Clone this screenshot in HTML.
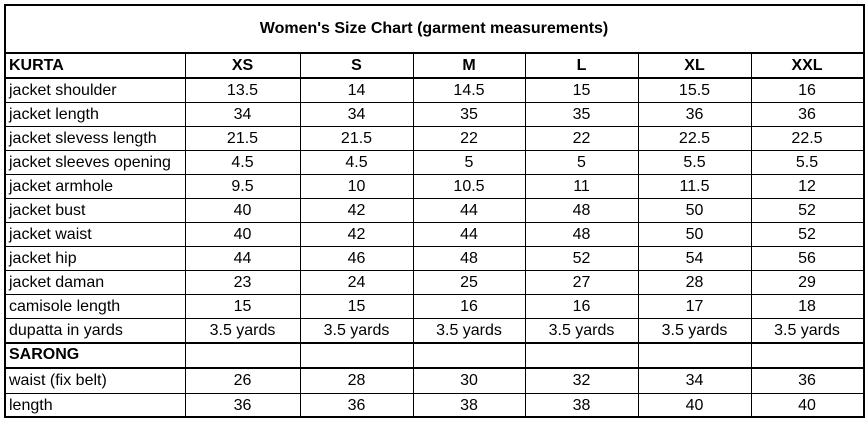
<!DOCTYPE html>
<html><head><meta charset="utf-8">
<style>
html,body{margin:0;padding:0;background:#fff;}
#wrap{position:relative;width:868px;height:421px;overflow:hidden;font-family:"Liberation Sans",Arial,sans-serif;color:#000;}
.cell{position:absolute;box-sizing:border-box;font-size:16px;line-height:1;display:flex;align-items:center;white-space:nowrap;}
.c{justify-content:center;}
.l{padding-left:4px;}
.b{font-weight:bold;}
.hl,.vl{position:absolute;background:#000;}
</style></head>
<body>
<div id="wrap">
  <div class="cell c b" style="left:5px;top:5px;width:858px;height:48px;font-size:16px;">Women's Size Chart (garment measurements)</div>
</div>
<script>
const sizes=["XS","S","M","L","XL","XXL"];
const rowLabels=["jacket shoulder","jacket length","jacket slevess length","jacket sleeves opening","jacket armhole","jacket bust","jacket waist","jacket hip","jacket daman","camisole length","dupatta in yards"];
const rowValues=[
["13.5","14","14.5","15","15.5","16"],
["34","34","35","35","36","36"],
["21.5","21.5","22","22","22.5","22.5"],
["4.5","4.5","5","5","5.5","5.5"],
["9.5","10","10.5","11","11.5","12"],
["40","42","44","48","50","52"],
["40","42","44","48","50","52"],
["44","46","48","52","54","56"],
["23","24","25","27","28","29"],
["15","15","16","16","17","18"],
["3.5 yards","3.5 yards","3.5 yards","3.5 yards","3.5 yards","3.5 yards"]];
const sarongLabels=["waist (fix belt)","length"];
const sarongValues=[["26","28","30","32","34","36"],["36","36","38","38","40","40"]];

const wrap=document.getElementById('wrap');
const colX=[4,185,300,413,525,638,751,863];
const rowY=[53,78,102,126,150,174,198,222,246,270,294,318,342,367,393,417];
const rows=[];
rows.push({label:"KURTA",vals:sizes,bold:true});
rowLabels.forEach((l,i)=>rows.push({label:l,vals:rowValues[i]}));
rows.push({label:"SARONG",vals:["","","","","",""],bold:true,labelOnly:true});
sarongLabels.forEach((l,i)=>rows.push({label:l,vals:sarongValues[i]}));

function cell(x,y,w,h,txt,cls){
  const d=document.createElement('div');
  d.className='cell '+cls;
  d.style.left=x+'px';d.style.top=(y+1)+'px';d.style.width=w+'px';d.style.height=(h-1)+'px';
  d.textContent=txt;
  wrap.appendChild(d);
  return d;
}
rows.forEach((r,ri)=>{
  const y=rowY[ri],h=rowY[ri+1]-rowY[ri];
  const lc=cell(colX[0]+1,y,colX[1]-colX[0],h,r.label,'l'+(r.bold?' b':''));
  
  
  r.vals.forEach((v,ci)=>{
    const d=cell(colX[ci+1],y,colX[ci+2]-colX[ci+1],h,v,'c'+(r.bold&&!r.labelOnly?' b':''));
    
    
  });
});
function hline(y,t){const d=document.createElement('div');d.className='hl';d.style.left=colX[0]+'px';d.style.top=y+'px';d.style.width=(colX[7]-colX[0]+2)+'px';d.style.height=t+'px';


wrap.appendChild(d);}
function vline(x,y1,y2,t){const d=document.createElement('div');d.className='vl';d.style.left=x+'px';d.style.top=y1+'px';d.style.width=t+'px';d.style.height=(y2-y1)+'px';


wrap.appendChild(d);}
const thick=[4,53,77,342,367,416];
rowY.forEach(y=>{ if(!thick.includes(y)&&!thick.includes(y-1)) hline(y,1); });
hline(4,2);hline(52,2);hline(77,2);hline(342,2);hline(367,2);hline(416,2);
vline(4,4,418,2);vline(863,4,418,2);
for(let i=1;i<7;i++) vline(colX[i],53,417,1);
</script>
</body></html>
